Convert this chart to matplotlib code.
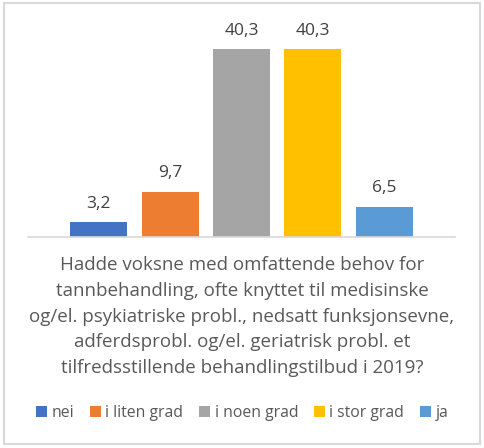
import matplotlib.pyplot as plt
from matplotlib.patches import Rectangle

# Data
categories = ['nei', 'i liten grad', 'i noen grad', 'i stor grad', 'ja']
values = [3.2, 9.7, 40.3, 40.3, 6.5]
labels = ['3,2', '9,7', '40,3', '40,3', '6,5']
colors = ['#4472C4', '#ED7D31', '#A5A5A5', '#FFC000', '#5B9BD5']
title = ('Hadde voksne med omfattende behov for\n'
         'tannbehandling, ofte knyttet til medisinske\n'
         'og/el. psykiatriske probl., nedsatt funksjonsevne,\n'
         'adferdsprobl. og/el. geriatrisk probl. et\n'
         'tilfredsstillende behandlingstilbud i 2019?')

plt.rcParams['font.family'] = ['Open Sans', 'DejaVu Sans']

fig = plt.figure(figsize=(4.84, 4.48), dpi=100)
ax = fig.add_axes([28/484, 1 - 237/448, 427/484, 217/448])

bars = []
for i, (cat, v, c) in enumerate(zip(categories, values, colors)):
    b = ax.bar(i, v, width=0.8, color=c, label=cat)
    bars.append(b)
    ax.text(i, v + 2.2, labels[i], ha='center', va='bottom', fontsize=12.5, color='#404040')

ax.set_xlim(-0.99, 4.99)
ax.set_ylim(0, 46.5)
for s in ['top', 'right', 'left']:
    ax.spines[s].set_visible(False)
ax.spines['bottom'].set_color('#D9D9D9')
ax.spines['bottom'].set_linewidth(1.2)
ax.set_xticks([])
ax.set_yticks([])

fig.text(0.5, 1 - 316.5/448, title, ha='center', va='center', fontsize=13.5,
         color='#595959', linespacing=1.55)

leg = fig.legend(handles=[b[0] for b in bars], labels=categories, ncol=5,
                 loc='center', bbox_to_anchor=(0.5, 1 - 413/448), frameon=False,
                 fontsize=11.3, handlelength=0.7, handleheight=0.7,
                 handletextpad=0.3, columnspacing=1.0, borderaxespad=0)
for t in leg.get_texts():
    t.set_color('#595959')

fig.patches.append(Rectangle((3.5/484, 1 - 443.5/448), 476/484, 440/448,
                             transform=fig.transFigure, fill=False,
                             edgecolor='#D9D9D9', linewidth=1.5))

fig.savefig('out.png', dpi=100)
